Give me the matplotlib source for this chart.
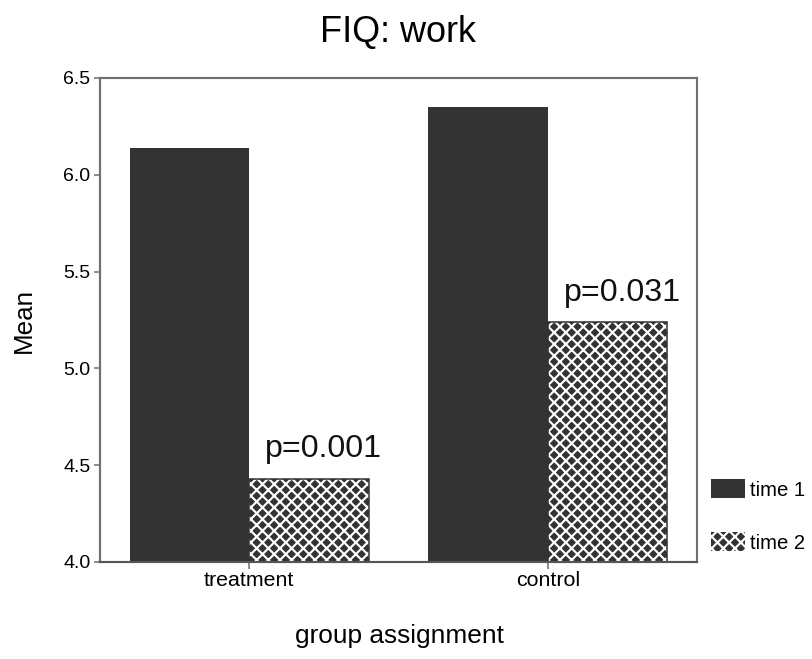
import matplotlib
matplotlib.use('Agg')
import matplotlib.pyplot as plt
import numpy as np

# values
groups = ['treatment', 'control']
time1 = [6.14, 6.35]
time2 = [4.43, 5.24]
series_labels = ['time 1', 'time 2']
p_values = ['p=0.001', 'p=0.031']

plt.rcParams['font.family'] = ['Liberation Sans', 'DejaVu Sans']
plt.rcParams['hatch.linewidth'] = 1.1

DARK = '#333333'
SPINE = '#707070'
W, H, DPI = 812, 659, 140

fig = plt.figure(figsize=(W / DPI, H / DPI), dpi=DPI)
ax = fig.add_axes([100 / W, 1 - 562 / H, 597 / W, 484 / H])

x = np.arange(len(groups))
bw = 0.4
b1 = ax.bar(x - bw / 2, time1, width=bw, color=DARK, linewidth=0, label=series_labels[0])
b2 = ax.bar(x + bw / 2, time2, width=bw, color=DARK, edgecolor='white',
            hatch='xxxx', linewidth=0, label=series_labels[1])
# dark outline round the hatched bars
ax.bar(x + bw / 2, time2, width=bw, fill=False, edgecolor=DARK, linewidth=0.8)

# handwritten p-values
for i, txt in enumerate(p_values):
    ax.text(x[i] + bw / 2 + 0.05, time2[i] + 0.11, txt, ha='center', va='baseline',
            fontsize=16.5, color='#111111')

ax.set_xlim(-0.5, 1.5)
ax.set_ylim(4.0, 6.5)
ax.set_yticks(np.arange(4.0, 6.51, 0.5))
ax.set_yticklabels(['%.1f' % v for v in np.arange(4.0, 6.51, 0.5)], fontsize=10)
ax.set_xticks(x)
ax.set_xticklabels(groups, fontsize=11)
ax.tick_params(axis='y', length=3, width=0.8, color=SPINE, pad=2)
ax.tick_params(axis='x', length=3.5, width=0.8, color=SPINE, pad=1)

for side in ['left', 'top', 'right']:
    ax.spines[side].set_color(SPINE)
    ax.spines[side].set_linewidth(1.1)
ax.spines['bottom'].set_color('#555555')
ax.spines['bottom'].set_linewidth(1.1)

fig.text(398 / W, 1 - 42 / H, 'FIQ: work', ha='center', va='baseline', fontsize=18.5)
fig.text(24 / W, 1 - 320 / H, 'Mean', ha='center', va='center', rotation=90, fontsize=13.4)
fig.text(399 / W, 1 - 643 / H, 'group assignment', ha='center', va='baseline', fontsize=13.5)

fig.legend(handles=[b1, b2], loc='upper left', bbox_to_anchor=(711 / W, 1 - 479 / H),
           frameon=False, fontsize=10.4, handlelength=1.7, handleheight=1.1,
           handletextpad=0.25, labelspacing=1.6, borderpad=0, borderaxespad=0)

fig.savefig('out.png', dpi=DPI)
